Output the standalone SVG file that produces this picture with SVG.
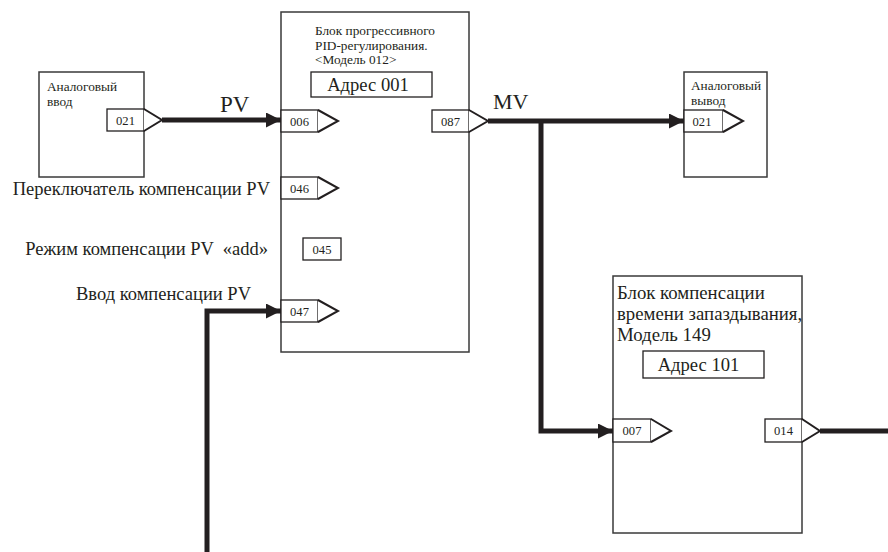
<svg xmlns="http://www.w3.org/2000/svg" width="888" height="552" viewBox="0 0 888 552">
<style>
text{font-family:'Liberation Serif','DejaVu Serif','Times New Roman',serif;fill:#231f20}
.blk{fill:#fff;stroke:#3a3a3a;stroke-width:1.5}
.pb{fill:#fff;stroke:#231f20;stroke-width:1.3}
.tri{fill:#fff;stroke:#231f20;stroke-width:2;stroke-linejoin:miter}
.pl{font-size:12.6px;text-anchor:middle}
.t13{font-size:13.3px}
.t18{font-size:18.5px}
.t19{font-size:18.8px}
.big{font-size:18.6px;text-anchor:middle}
.w{fill:none;stroke:#231f20;stroke-width:5}
</style>
<defs>
<marker id="ah" viewBox="0 0 10 10" refX="10" refY="5" markerWidth="3" markerHeight="3" orient="auto" markerUnits="strokeWidth">
<path d="M0,0 L10,5 L0,10 z" fill="#231f20"/>
</marker>
</defs>
<g font-family="Liberation Serif, DejaVu Serif, serif">
<g id="analog-in">
<rect class="blk" x="39" y="72" width="105" height="105"/>
<text class="t13" x="47" y="91">Аналоговый</text>
<text class="t13" x="47" y="106">ввод</text>
<rect class="pb" x="107" y="109" width="37" height="22"/>
<text class="pl" x="125.5" y="124.5">021</text>
<path class="tri" d="M144,109 L162,120 L144,131"/>
</g>

<g id="pid">
<rect class="blk" x="281" y="12" width="188" height="340"/>
<text class="t13" x="315" y="35">Блок прогрессивного</text>
<text class="t13" x="315" y="50">PID-регулирования.</text>
<text class="t13" x="315" y="64">&lt;Модель 012&gt;</text>
<rect class="pb" x="311" y="72" width="121" height="25"/>
<text class="big" x="368" y="91">Адрес 001</text>
<rect class="pb" x="281" y="110" width="37" height="22"/>
<text class="pl" x="299.5" y="125.5">006</text>
<path class="tri" d="M318,110 L338,121 L318,132"/>
<rect class="pb" x="432" y="110" width="37" height="22"/>
<text class="pl" x="450.5" y="125.5">087</text>
<path class="tri" d="M469,110 L488,121 L469,132"/>
<rect class="pb" x="281" y="177" width="37" height="22"/>
<text class="pl" x="299.5" y="192.5">046</text>
<path class="tri" d="M318,177 L338,188 L318,199"/>
<rect class="pb" x="303" y="238" width="38" height="22"/>
<text class="pl" x="322" y="253.5">045</text>
<rect class="pb" x="281" y="300" width="37" height="22"/>
<text class="pl" x="299.5" y="315.5">047</text>
<path class="tri" d="M318,300 L338,311 L318,322"/>
</g>

<g id="labels">
<text class="t18" x="270" y="195" text-anchor="end">Переключатель компенсации PV</text>
<text class="t18" x="268" y="255" text-anchor="end" xml:space="preserve">Режим компенсации PV  «add»</text>
<text class="t18" x="251" y="300" text-anchor="end">Ввод компенсации PV</text>
<text x="220" y="112" font-size="23">PV</text>
<text x="493" y="109" font-size="22">MV</text>
</g>

<g id="analog-out">
<rect class="blk" x="684" y="72" width="83" height="105"/>
<text class="t13" x="691" y="90">Аналоговый</text>
<text class="t13" x="691" y="105">вывод</text>
<rect class="pb" x="684" y="110" width="39" height="22"/>
<text class="pl" x="702" y="125.5">021</text>
<path class="tri" d="M723,110 L743,121 L723,132"/>
</g>

<g id="delay">
<rect class="blk" x="613" y="276" width="189" height="257"/>
<text class="t19" x="617" y="299">Блок компенсации</text>
<text class="t19" x="617" y="320">времени запаздывания,</text>
<text class="t19" x="617" y="341">Модель 149</text>
<rect class="pb" x="643" y="351" width="121" height="27"/>
<text class="big" x="698.5" y="371">Адрес 101</text>
<rect class="pb" x="613" y="419" width="38" height="23"/>
<text class="pl" x="632" y="435">007</text>
<path class="tri" d="M651,419 L671,431 L651,442"/>
<rect class="pb" x="765" y="419" width="37" height="23"/>
<text class="pl" x="783.5" y="435">014</text>
<path class="tri" d="M802,419 L820,431 L802,442"/>
</g>

<g id="connectors">
<path class="w" d="M162,120 L281,120" marker-end="url(#ah)"/>
<path class="w" d="M488,121 L684,121" marker-end="url(#ah)"/>
<path class="w" d="M541,121 L541,431 L613,431" marker-end="url(#ah)"/>
<path class="w" d="M207,552 L207,311 L281,311" marker-end="url(#ah)"/>
<path class="w" d="M820,431 L888,431"/>
</g>
</g>
</svg>
